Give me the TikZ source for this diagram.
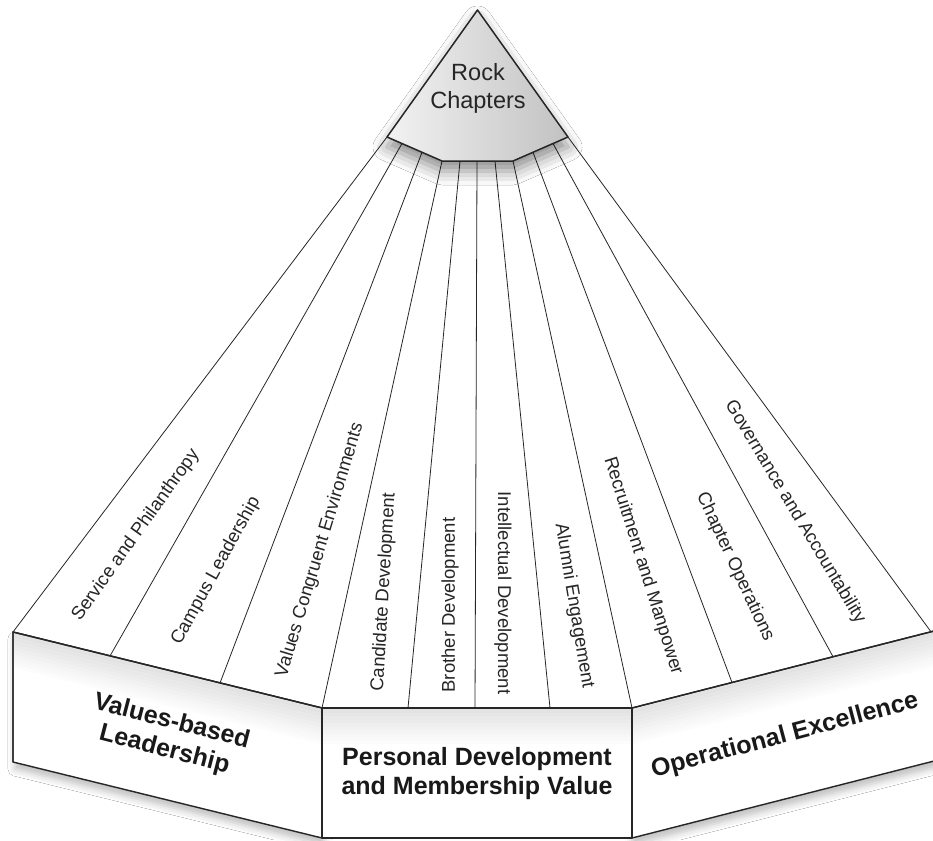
\documentclass[tikz,border=0pt]{standalone}
\usepackage{fontspec}
\setmainfont{Liberation Sans}
\usetikzlibrary{shadows.blur}
\begin{document}
\begin{tikzpicture}[x=1pt,y=-1pt,
  divider/.style={draw=black!85, line width=0.8pt},
  blockbox/.style={draw=black!85, line width=1.4pt, fill=white, line join=round},
  striplabel/.style={font=\fontsize{18.5}{22}\selectfont, text=black!85, inner sep=0pt},
  blocklabel/.style={font=\bfseries\fontsize{25}{29}\selectfont, text=black!90, align=center, inner sep=0pt},
  rocklabel/.style={font=\fontsize{23.5}{28}\selectfont, text=black!85, align=center, inner sep=0pt},
  apex/.style={draw=black!85, line width=1.5pt, line join=round, left color=gray!10, right color=gray!48},
]
\useasboundingbox (0,0) rectangle (933,840);
\fill[white] (0,0) rectangle (933,840);

% top polygon points
\coordinate (A)   at (477.5,10);
\coordinate (T0)  at (387,137);
\coordinate (T1)  at (402,143.5);
\coordinate (T2)  at (422,152.3);
\coordinate (T3)  at (442,161);
\coordinate (T4)  at (460,161);
\coordinate (T5)  at (477,161);
\coordinate (T6)  at (495,161);
\coordinate (T7)  at (513,161);
\coordinate (T8)  at (533,152.3);
\coordinate (T9)  at (553,143.5);
\coordinate (T10) at (568,137);
% base points
\coordinate (B0)  at (13,632);
\coordinate (B1)  at (110,656);
\coordinate (B2)  at (220,683);
\coordinate (B3)  at (322,708);
\coordinate (B4)  at (408,708);
\coordinate (B5)  at (475,708);
\coordinate (B6)  at (550,708);
\coordinate (B7)  at (632,708);
\coordinate (B8)  at (732,682.5);
\coordinate (B9)  at (833,656.7);
\coordinate (B10) at (931,631.8);
% block bottoms
\coordinate (L0) at (13,762);
\coordinate (L3) at (322,838);
\coordinate (L7) at (632,838);
\coordinate (RT) at (945,628.2);
\coordinate (RB) at (945,758.2);

% fan face
\fill[white] (T0) -- (T3) -- (T7) -- (T10) -- (B10) -- (B7) -- (B3) -- (B0) -- cycle;
\foreach \i in {0,...,10} { \draw[divider] (T\i) -- (B\i); }

% blocks
\path[blockbox, blur shadow={shadow xshift=2pt, shadow yshift=-7pt, shadow blur radius=7pt, shadow opacity=25}]
  (B0) -- (B3) -- (L3) -- (L0) -- cycle;
\path[blockbox, blur shadow={shadow xshift=0pt, shadow yshift=-7pt, shadow blur radius=7pt, shadow opacity=25}]
  (B7) -- (RT) -- (RB) -- (L7) -- cycle;
\path[blockbox] (B3) -- (B7) -- (L7) -- (L3) -- cycle;
% inner shading along top edges (stacked bands)
\foreach \k in {0,...,9} {
  \pgfmathsetmacro{\op}{0.11*(1-\k/10)}
  \pgfmathsetmacro{\ya}{1+3.5*\k}
  \pgfmathsetmacro{\yb}{1+3.5*(\k+1)}
  \fill[black, fill opacity=\op] ($(B0)+(1,\ya)$) -- ($(B3)+(-1,\ya)$) -- ($(B3)+(-1,\yb)$) -- ($(B0)+(1,\yb)$) -- cycle;
  \fill[black, fill opacity=\op] ($(B3)+(1,\ya)$) -- ($(B7)+(-1,\ya)$) -- ($(B7)+(-1,\yb)$) -- ($(B3)+(1,\yb)$) -- cycle;
  \fill[black, fill opacity=\op] ($(B7)+(1,\ya)$) -- ($(RT)+(0,\ya)$) -- ($(RT)+(0,\yb)$) -- ($(B7)+(1,\yb)$) -- cycle;
}
\draw[draw=black!85, line width=1.4pt, line join=round] (L0) -- (B0) -- (B3) -- (B7) -- (RT);
\draw[draw=black!85, line width=1.4pt] (B3) -- (L3) (B7) -- (L7);

% apex
\path[apex, blur shadow={shadow xshift=0pt, shadow yshift=-10pt, shadow blur radius=14pt, shadow opacity=45}]
  (A) -- (T10) -- (T7) -- (T3) -- (T0) -- cycle;
\node[rocklabel] (rock) at (478,88) {Rock\\Chapters};

% strip labels
\node[striplabel, rotate=54.5]  (s1)  at (136,535) {Service and Philanthropy};
\node[striplabel, rotate=61.2]  (s2)  at (216,571) {Campus Leadership};
\node[striplabel, rotate=73.2]  (s3)  at (320,550) {Values Congruent Environments};
\node[striplabel, rotate=86.6]  (s4)  at (384,592) {Candidate Development};
\node[striplabel, rotate=90]    (s5)  at (450,605) {Brother Development};
\node[striplabel, rotate=-90]   (s6)  at (503,593) {Intellectual Development};
\node[striplabel, rotate=-80.5] (s7)  at (574,606) {Alumni Engagement};
\node[striplabel, rotate=-72.5] (s8)  at (643,566) {Recruitment and Manpower};
\node[striplabel, rotate=-65]   (s9)  at (735,567) {Chapter Operations};
\node[striplabel, rotate=-59]   (s10) at (795,512) {Governance and Accountability};

% block labels
\node[blocklabel, rotate=-14.5] (vbl) at (168,736) {Values-based\\Leadership};
\node[blocklabel] (pdm) at (477,774) {Personal Development\\and Membership Value};
\node[blocklabel, rotate=14.8] (opx) at (785,736) {Operational Excellence};
\end{tikzpicture}
\end{document}
